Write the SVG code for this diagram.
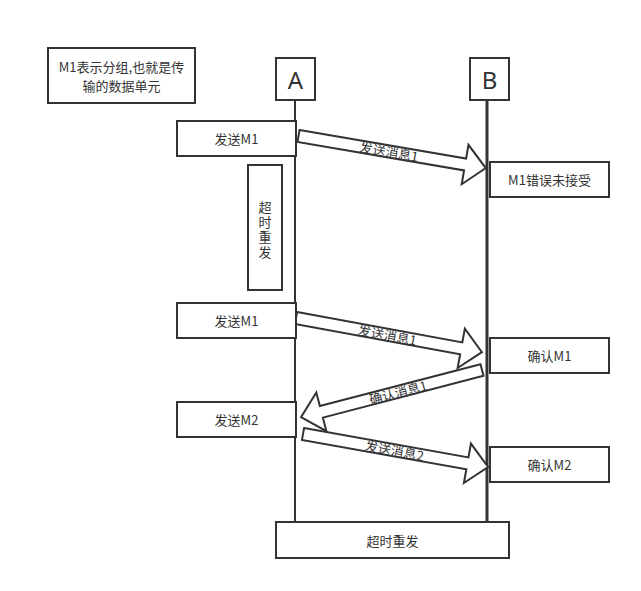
<svg xmlns="http://www.w3.org/2000/svg" width="641" height="591" viewBox="0 0 641 591">
<style>
.box{fill:#fff;stroke:#333;stroke-width:2}
.t{font-family:"Noto Sans CJK SC","Microsoft YaHei",sans-serif;font-size:13px;fill:#333;text-anchor:middle;dominant-baseline:central}
.big{font-family:"Noto Sans","Liberation Sans",sans-serif;font-size:24px;fill:#333;text-anchor:middle;dominant-baseline:central}
.life{stroke:#333;fill:none}
.arr{fill:#fff;stroke:#333;stroke-width:2;stroke-linejoin:miter}
</style>
<rect width="641" height="591" fill="#fff"/>
<g id="connectors">
<line class="life" x1="295" y1="100" x2="295" y2="522" stroke-width="2"/>
<line class="life" x1="487" y1="100" x2="487" y2="522" stroke-width="3"/>
<g id="msg1" transform="translate(298.5,136) rotate(9.71)">
<polygon class="arr" points="0,-6 169,-6 169,-20 190,0 169,20 169,6 0,6"/>
<text class="t" x="92" y="0">发送消息1</text>
</g>
<g id="msg2" transform="translate(296,318) rotate(10.4)">
<polygon class="arr" points="0,-6 168,-6 168,-20 189,0 168,20 168,6 0,6"/>
<text class="t" x="93" y="0">发送消息1</text>
</g>
<g id="msg3">
<polygon class="arr" transform="translate(482,370) rotate(165.4)" points="0,-6 166,-6 166,-20 187,0 166,20 166,6 0,6"/>
<text class="t" transform="translate(398,392) rotate(-14.6)" x="0" y="0">确认消息1</text>
</g>
<g id="msg4" transform="translate(303,434) rotate(10.1)">
<polygon class="arr" points="0,-6 167,-6 167,-20 188,0 167,20 167,6 0,6"/>
<text class="t" x="93" y="0">发送消息2</text>
</g>
</g>
<g id="note">
<rect class="box" x="48" y="48" width="147" height="55"/>
<text class="t" x="121.5" y="66.5">M1表示分组,也就是传</text>
<text class="t" x="121.5" y="85.5">输的数据单元</text>
</g>
<g id="A">
<rect class="box" x="276" y="58" width="39" height="42"/>
<text class="big" x="295.5" y="79">A</text>
</g>
<g id="B">
<rect class="box" x="470" y="58" width="39" height="42"/>
<text class="big" x="489.5" y="79">B</text>
</g>
<g id="send1">
<rect class="box" x="177" y="121" width="119" height="35"/>
<text class="t" x="236.5" y="138.5">发送M1</text>
</g>
<g id="timeout1">
<rect class="box" x="248" y="165" width="34" height="125"/>
<text class="t" x="265" y="231" style="writing-mode:vertical-rl;letter-spacing:2px;dominant-baseline:auto">超时重发</text>
</g>
<g id="send1b">
<rect class="box" x="177" y="303" width="119" height="35"/>
<text class="t" x="236.5" y="320.5">发送M1</text>
</g>
<g id="send2">
<rect class="box" x="177" y="402" width="119" height="35"/>
<text class="t" x="236.5" y="419.5">发送M2</text>
</g>
<g id="err">
<rect class="box" x="490" y="162" width="119" height="35"/>
<text class="t" x="549.5" y="179.5">M1错误未接受</text>
</g>
<g id="ack1">
<rect class="box" x="490" y="338" width="119" height="35"/>
<text class="t" x="549.5" y="355.5">确认M1</text>
</g>
<g id="ack2">
<rect class="box" x="490" y="447" width="119" height="35"/>
<text class="t" x="549.5" y="464.5">确认M2</text>
</g>
<g id="timeout2">
<rect class="box" x="276" y="522" width="233" height="36"/>
<text class="t" x="392.5" y="540">超时重发</text>
</g>
</svg>
